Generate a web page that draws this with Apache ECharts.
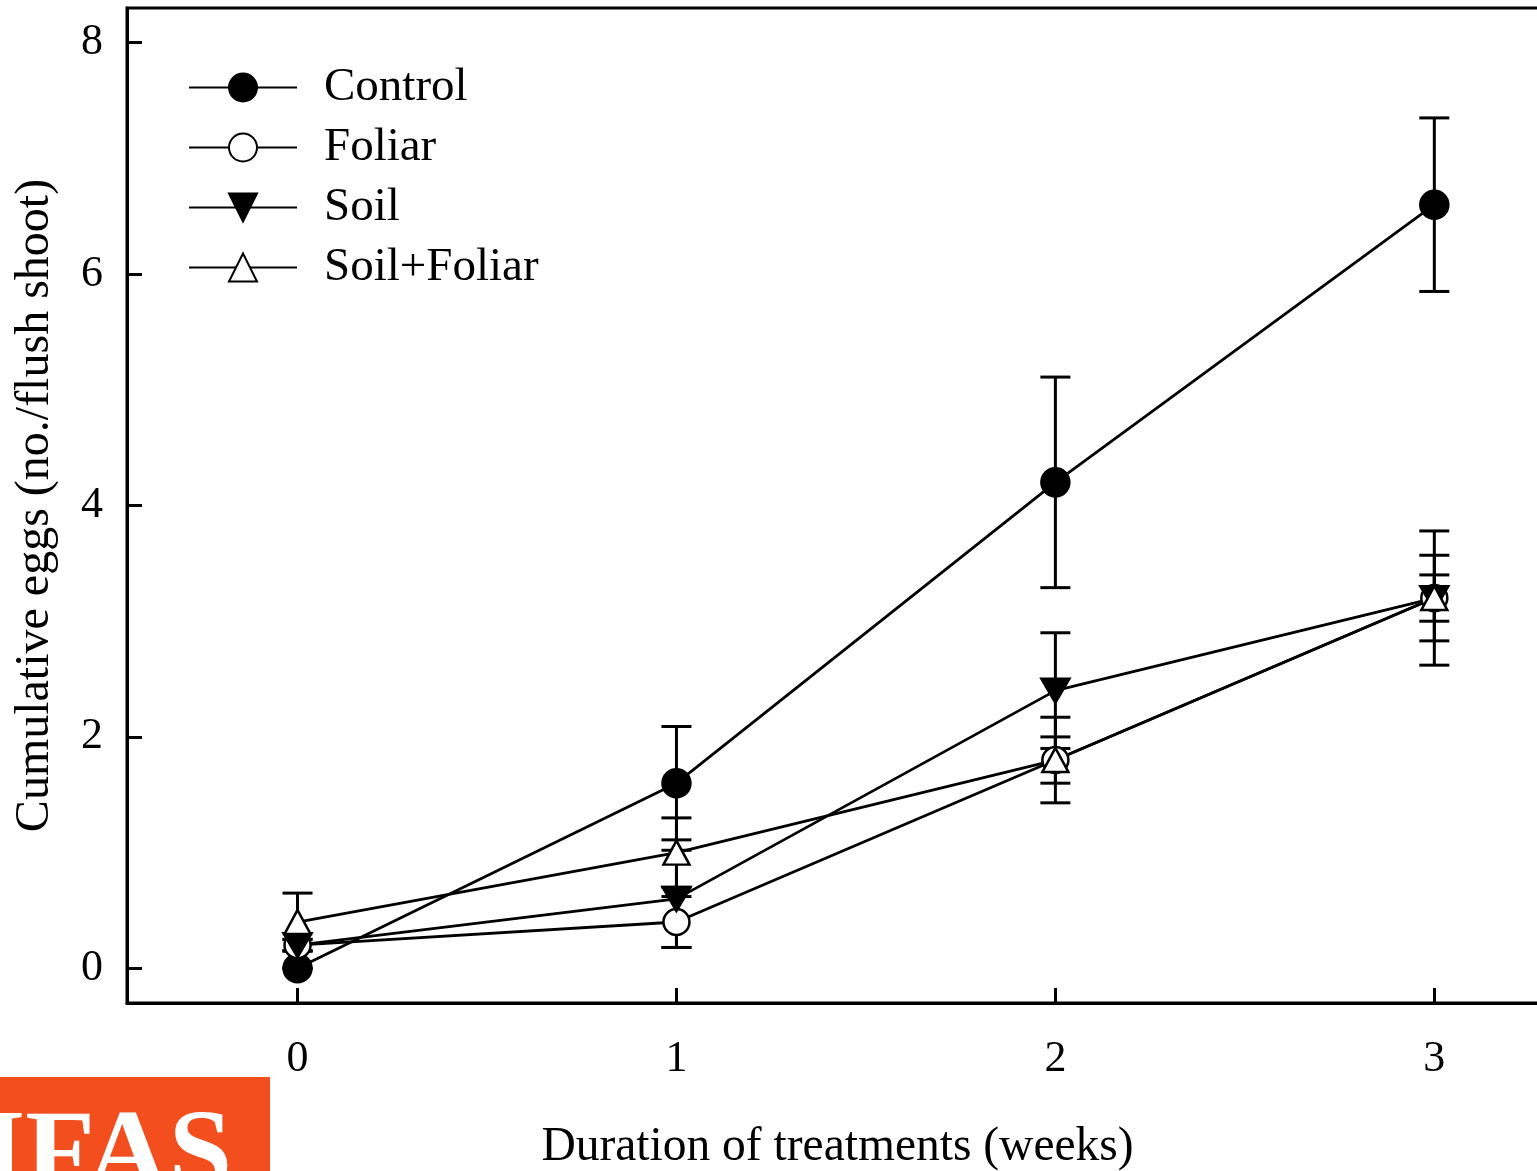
<!DOCTYPE html>
<html>
<head>
<meta charset="utf-8">
<script src="https://cdn.jsdelivr.net/npm/echarts@6/dist/echarts.min.js"></script>
<style>
html,body{margin:0;padding:0;background:#fff;}
#chart{width:1537px;height:1171px;}
</style>
</head>
<body>
<div id="chart"></div>
<script>
// ---- data ----
const weeks = [0, 1, 2, 3];
const seriesNames = ['Control', 'Foliar', 'Soil', 'Soil+Foliar'];
const controlVals = [0, 1.6, 4.2, 6.6];
const controlErr = [0.0, 0.49, 0.91, 0.75];
const foliarVals = [0.2, 0.4, 1.8, 3.2];
const foliarErr = [0.05, 0.22, 0.37, 0.37];
const soilVals = [0.2, 0.6, 2.4, 3.2];
const soilErr = [0.05, 0.42, 0.5, 0.58];
const soilFoliarVals = [0.4, 1.0, 1.8, 3.2];
const soilFoliarErr = [0.25, 0.3, 0.2, 0.2];
const xTicks = [0, 1, 2, 3];
const yTicks = [0, 2, 4, 6, 8];
const xTitle = 'Duration of treatments (weeks)';
const yTitle = 'Cumulative eggs (no./flush shoot)';

const FONT = '"Liberation Serif", "Times New Roman", serif';
const INK = '#000';

function pts(vals) { return weeks.map((w, i) => [w, vals[i]]); }
function errData(vals, errs) { return weeks.map((w, i) => [w, vals[i] - errs[i], vals[i] + errs[i]]); }

function errSeries(name, vals, errs) {
  return {
    type: 'custom',
    name: name + ' err',
    z: 1,
    silent: true,
    data: errData(vals, errs),
    encode: { x: 0, y: [1, 2] },
    renderItem: function (params, api) {
      const x = api.value(0);
      const lo = api.coord([x, api.value(1)]);
      const hi = api.coord([x, api.value(2)]);
      const hw = 15;
      const st = { stroke: INK, lineWidth: 3 };
      return {
        type: 'group',
        children: [
          { type: 'line', shape: { x1: lo[0], y1: lo[1], x2: hi[0], y2: hi[1] }, style: st },
          { type: 'line', shape: { x1: hi[0] - hw, y1: hi[1], x2: hi[0] + hw, y2: hi[1] }, style: st },
          { type: 'line', shape: { x1: lo[0] - hw, y1: lo[1], x2: lo[0] + hw, y2: lo[1] }, style: st }
        ]
      };
    }
  };
}

function lineSeries(name, vals, symbol, fill, size, rotate) {
  return {
    type: 'line',
    name: name,
    z: 3,
    data: pts(vals),
    symbol: symbol,
    symbolSize: size,
    symbolRotate: rotate || 0,
    showAllSymbol: true,
    lineStyle: { color: INK, width: 2.8 },
    itemStyle: { color: fill, borderColor: INK, borderWidth: 2.5, opacity: 1 },
    emphasis: { disabled: true },
    animation: false
  };
}

const chart = echarts.init(document.getElementById('chart'), null, { renderer: 'canvas' });

const option = {
  animation: false,
  backgroundColor: '#fff',
  grid: {
    left: 127, top: 8, width: 1421, height: 995,
    outerBoundsMode: 'none', containLabel: false,
    show: true, borderColor: INK, borderWidth: 3, backgroundColor: 'transparent'
  },
  legend: {
    data: seriesNames,
    orient: 'vertical',
    left: 183, top: 59,
    itemWidth: 108, itemHeight: 35, itemGap: 13,
    textStyle: { fontFamily: FONT, fontSize: 47, color: INK, lineHeight: 47, padding: [0, 0, 0, 22] },
    selectedMode: false
  },
  xAxis: {
    type: 'value',
    min: -0.45, max: 3.3,
    splitLine: { show: false },
    axisLine: { show: true, onZero: false, lineStyle: { color: INK, width: 3 } },
    axisTick: { show: true, inside: true, length: 15, lineStyle: { color: INK, width: 3 }, customValues: xTicks },
    axisLabel: { fontFamily: FONT, fontSize: 44, color: INK, margin: 34, customValues: xTicks },
    name: xTitle,
    nameLocation: 'middle',
    nameGap: 121,
    nameTextStyle: { fontFamily: FONT, fontSize: 47.5, color: INK }
  },
  yAxis: {
    type: 'value',
    min: -0.3, max: 8.3,
    splitLine: { show: false },
    axisLine: { show: true, onZero: false, lineStyle: { color: INK, width: 3 } },
    axisTick: { show: true, inside: true, length: 15, lineStyle: { color: INK, width: 3 }, customValues: yTicks },
    axisLabel: { fontFamily: FONT, fontSize: 44, color: INK, margin: 24, customValues: yTicks },
    name: yTitle,
    nameLocation: 'middle',
    nameGap: 68,
    nameTextStyle: { fontFamily: FONT, fontSize: 48, color: INK }
  },
  graphic: [
    { type: 'rect', left: 0, top: 1077, shape: { width: 270, height: 94 }, style: { fill: '#F24E1E' }, z: 10 },
    { type: 'text', x: -19, y: 1102, style: { text: 'IFAS', fill: '#fff', font: 'bold 114px "Liberation Serif", serif' }, z: 11 }
  ],
  series: [
    errSeries('Control', controlVals, controlErr),
    errSeries('Foliar', foliarVals, foliarErr),
    errSeries('Soil', soilVals, soilErr),
    errSeries('Soil+Foliar', soilFoliarVals, soilFoliarErr),
    lineSeries('Control', controlVals, 'circle', INK, 28),
    lineSeries('Foliar', foliarVals, 'circle', '#fff', 26),
    lineSeries('Soil', soilVals, 'triangle', INK, [28, 24], 180),
    lineSeries('Soil+Foliar', soilFoliarVals, 'triangle', '#fff', [26, 24])
  ]
};
chart.setOption(option);
</script>
</body>
</html>
